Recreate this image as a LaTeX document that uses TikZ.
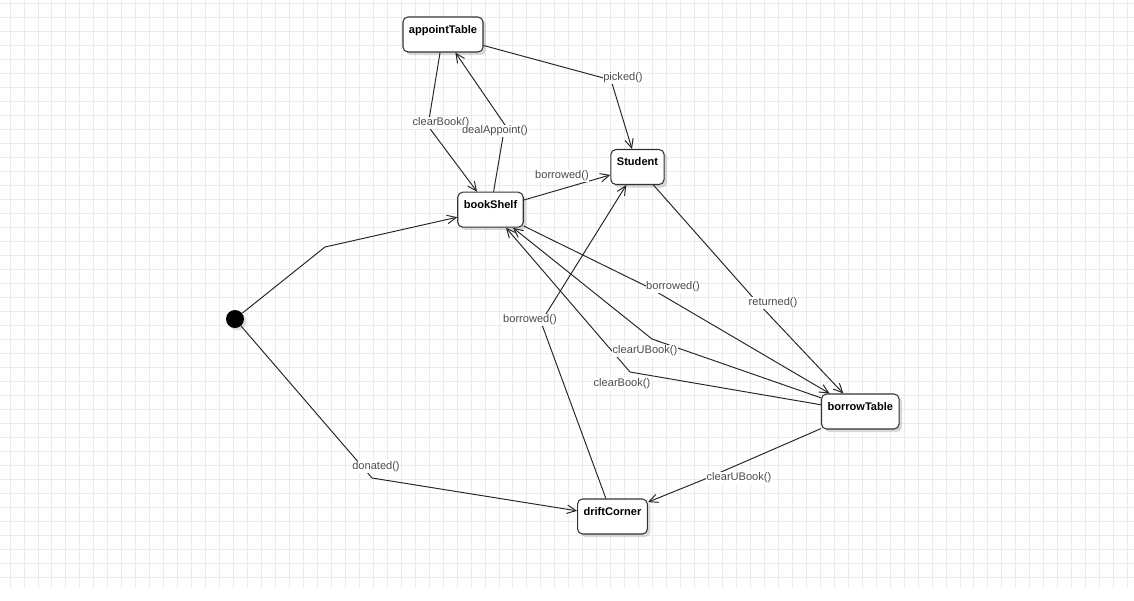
\documentclass[tikz,border=0pt]{standalone}
\usepackage{fontspec}
\setmainfont{Liberation Sans}
\usetikzlibrary{arrows.meta,shadows}

\begin{document}
\begin{tikzpicture}[x=0.02cm, y=-0.02cm,
	gridline/.style={draw=black!8, line width=0.5pt},
	state/.style={draw=black!80, line width=0.6pt, rounded corners=0.1cm, fill=white,
		font=\fontsize{6.3pt}{7.5pt}\selectfont\bfseries,
		inner xsep=0.12cm, inner ysep=0pt, text height=0.32cm, text depth=0.38cm,
		drop shadow={shadow xshift=0.06cm, shadow yshift=-0.06cm, fill=black!30, opacity=0.5}},
	initial/.style={circle, fill=black, inner sep=0pt, minimum size=0.36cm,
		drop shadow={shadow xshift=0.05cm, shadow yshift=-0.05cm, fill=black!30, opacity=0.4}},
	tr/.style={draw=black!85, line width=0.55pt, -{Straight Barb[length=1.8mm, width=1.7mm]}},
	lbl/.style={fill=white, inner sep=0.4pt, text=black!70, font=\fontsize{6.3pt}{7.5pt}\selectfont}
	]
	
	\useasboundingbox (0,0) rectangle (1134,600);
	\fill[white] (0,0) rectangle (1134,600);
	
	% ---- Background grid ----
	\foreach \gx in {10,23.97,...,1134}
	\draw[gridline] (\gx,0) -- (\gx,588);
	\foreach \gy in {3.3,17.3,...,588}
	\draw[gridline] (0,\gy) -- (1134,\gy);
	
	% ---- States ----
	\foreach \name/\x/\y in {
		appointTable/443/34.5,
		Student/637.5/167,
		bookShelf/490.5/209.7,
		borrowTable/860.3/411.5,
		driftCorner/612.5/516.5}
	{
		\node[state] (\name) at (\x,\y) {\name};
	}
	
	% ---- Initial state ----
	\node[initial] (init) at (235,319) {};
	
	% ---- Bend points of the transitions ----
	\foreach \name/\x/\y in {
		bInit/325/247,
		bDonated/372/478,
		bClearBook/428/126,
		bDeal/505/125,
		bPicked/611/80,
		bBorrowT/650/288,
		bReturned/757/302,
		bClearU/652/339,
		bClearB/630/372,
		bClearUD/705/479,
		bBorrowS/541/322}
	\coordinate (\name) at (\x,\y);
	
	% ---- Transitions ----
	\foreach \from/\via/\to in {
		init/bInit/bookShelf,
		init/bDonated/driftCorner,
		appointTable/bClearBook/bookShelf,
		bookShelf/bDeal/appointTable,
		appointTable/bPicked/Student,
		bookShelf/bBorrowT/borrowTable,
		Student/bReturned/borrowTable,
		borrowTable/bClearU/bookShelf,
		borrowTable/bClearB/bookShelf,
		borrowTable/bClearUD/driftCorner,
		driftCorner/bBorrowS/Student}
	\draw[tr] (\from) -- (\via) -- (\to);
	\draw[tr] (bookShelf) -- (Student);
	
	% ---- Transition labels ----
	\foreach \x/\y/\txt [count=\i] in {
		441/123/clearBook(),
		495/131/dealAppoint(),
		623/78/picked(),
		562/176/borrowed(),
		673/287/borrowed(),
		773/303/returned(),
		530/320/borrowed(),
		645/351/clearUBook(),
		622/384/clearBook(),
		739/478/clearUBook(),
		376/467/donated()}
	\node[lbl] (lbl\i) at (\x,\y) {\txt};
	
\end{tikzpicture}
\end{document}
